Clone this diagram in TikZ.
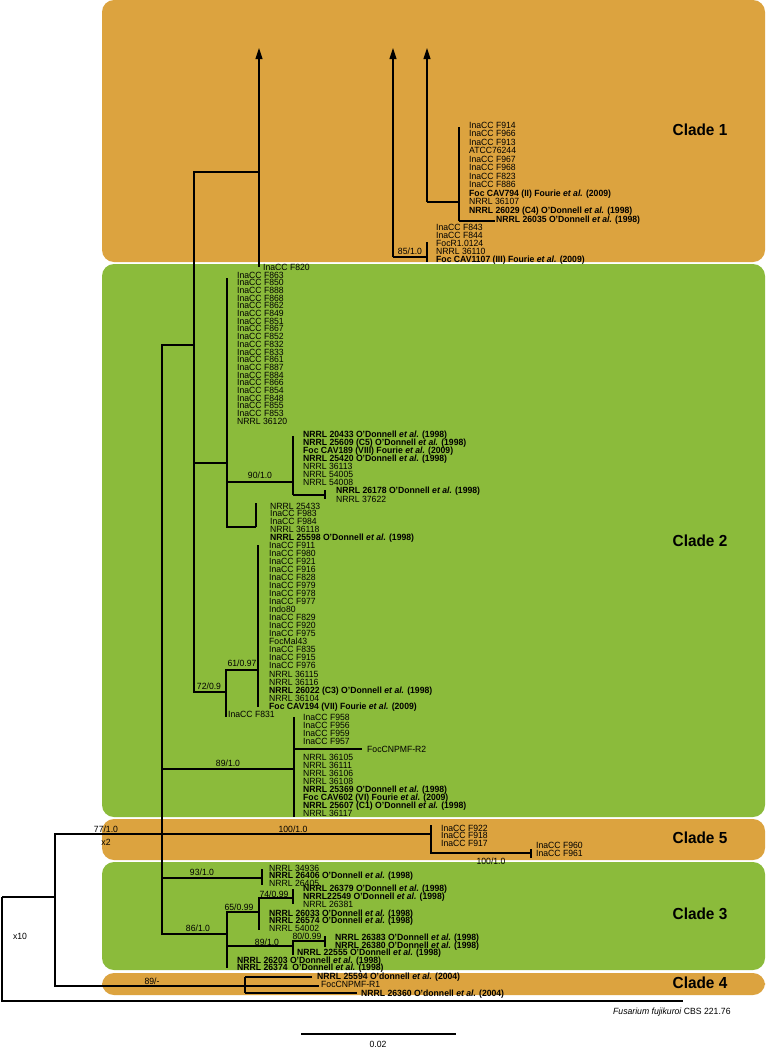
\documentclass[tikz,border=0pt]{standalone}
\usepackage{fontspec}
\setmainfont{Liberation Sans}[FakeStretch=0.96]
\usetikzlibrary{arrows.meta}
\definecolor{cladeor}{RGB}{220,163,63}
\definecolor{cladegr}{RGB}{139,187,59}
\newcommand\etal{\textit{et al.}}
\begin{document}
\begin{tikzpicture}[x=1pt,y=-1pt,
  band/.style={rounded corners=12pt},
  br/.style={draw=black,line width=1.1pt},
  arr/.style={br,-{Triangle[length=11pt,width=7pt]}},
  lf/.style={anchor=base west,inner sep=0pt,yshift=-0.3pt,font=\fontsize{9}{9}\selectfont},
  bs/.style={inner sep=0pt,font=\fontsize{9}{9}\selectfont},
  cl/.style={inner sep=0pt,font=\fontsize{16}{16}\selectfont\bfseries}]
\useasboundingbox (0,0) rectangle (766,1052);
\fill[white] (0,0) rectangle (766,1052);
% clade bands
\fill[cladeor,band] (102,0) rectangle (765,262);
\fill[cladegr,band] (102,264) rectangle (765,817);
\fill[cladeor,band] (102,819) rectangle (765,860);
\fill[cladegr,band] (102,862) rectangle (765,970);
\fill[cladeor,band] (102,973) rectangle (765,995);
\node[cl] (c1) at (700,130) {Clade 1};
\node[cl] (c2) at (700,541) {Clade 2};
\node[cl] (c5) at (700,838) {Clade 5};
\node[cl] (c3) at (700,914) {Clade 3};
\node[cl] (c4) at (700,983) {Clade 4};

% ---------- coordinates of tree nodes ----------
\coordinate (R) at (2,897);
\coordinate (A) at (55,897);
\coordinate (Fus) at (683,1001);
\coordinate (B) at (162,834);
\coordinate (Q) at (245,986);
\coordinate (C) at (194,345);
\coordinate (H89) at (294,769);
\coordinate (K) at (431,834);
\coordinate (T93) at (262,878);
\coordinate (N) at (227,934);
\coordinate (D) at (259,172);
\coordinate (Dtop) at (259,48);
\coordinate (Dbot) at (259,267);
\coordinate (G) at (227,463);
\coordinate (Gt) at (227,278);
\coordinate (Gb) at (227,527);
\coordinate (J) at (226,692);
\coordinate (Jb) at (226,717);
\coordinate (H90) at (293,482);
\coordinate (H90t) at (293,436);
\coordinate (H90b) at (293,495);
\coordinate (U) at (325,495);
\coordinate (Ut) at (325,490);
\coordinate (Ub) at (325,499);
\coordinate (I) at (256,527);
\coordinate (It) at (256,503);
\coordinate (V) at (258,670);
\coordinate (Vt) at (258,545);
\coordinate (Vb) at (258,707);
\coordinate (H89t) at (294,717);
\coordinate (H89b) at (294,817);
\coordinate (R2) at (362,749);
\coordinate (Kt) at (431,825);
\coordinate (K2) at (531,853);
\coordinate (K2t) at (531,849);
\coordinate (K2b) at (531,858);
\coordinate (T93t) at (262,869);
\coordinate (T93b) at (262,885);
\coordinate (Nt) at (227,912);
\coordinate (Nb) at (227,968);
\coordinate (M) at (259,912);
\coordinate (Mt) at (259,898);
\coordinate (Mb) at (259,930);
\coordinate (W) at (293,898);
\coordinate (Wt) at (293,889);
\coordinate (Wb) at (293,904);
\coordinate (L) at (293,946);
\coordinate (Lt) at (293,941);
\coordinate (Lb) at (293,955);
\coordinate (X) at (325,941);
\coordinate (Xt) at (325,936);
\coordinate (Xb) at (325,947);
\coordinate (Qt) at (245,977);
\coordinate (Qb) at (245,993);
\coordinate (Q1) at (312,977);
\coordinate (Q2) at (319,986);
\coordinate (Q3) at (357,993);
% clade 1 cut branches
\coordinate (E) at (393,257);
\coordinate (Etop) at (393,48);
\coordinate (F) at (427,257);
\coordinate (Ft) at (427,242);
\coordinate (Fb) at (427,262);
\coordinate (P) at (427,202);
\coordinate (Ptop) at (427,48);
\coordinate (S) at (459,202);
\coordinate (St) at (459,127);
\coordinate (Sb) at (459,221);
\coordinate (S2) at (495,221);
% scale bar
\coordinate (sb1) at (301,1034);
\coordinate (sb2) at (456,1034);

% ---------- branches ----------
\draw[br] (R) -- (A);
\draw[br] (R) |- (Fus);
\draw[br] (A) |- (B);
\draw[br] (A) |- (Q);
\draw[br] (B) |- (C);
\draw[br] (B) |- (H89);
\draw[br] (B) -- (K);
\draw[br] (B) |- (T93);
\draw[br] (B) |- (N);
\draw[br] (C) |- (D);
\draw[br] (C) |- (G);
\draw[br] (C) |- (J);
\draw[arr] (D) -- (Dtop);
\draw[br] (D) -- (Dbot);
\draw[br] (Gt) -- (Gb);
\draw[br] (G) |- (H90);
\draw[br] (G) |- (I);
\draw[br] (I) -- (It);
\draw[br] (H90t) -- (H90b);
\draw[br] (H90b) -- (U);
\draw[br] (Ut) -- (Ub);
\draw[br] (J) |- (V);
\draw[br] (J) -- (Jb);
\draw[br] (Vt) -- (Vb);
\draw[br] (H89t) -- (H89b);
\draw[br] (H89) |- (R2);
\draw[br] (Kt) |- (K2);
\draw[br] (K2t) -- (K2b);
\draw[br] (T93t) -- (T93b);
\draw[br] (Nt) -- (Nb);
\draw[br] (N) |- (M);
\draw[br] (N) |- (L);
\draw[br] (Mt) -- (Mb);
\draw[br] (M) |- (W);
\draw[br] (Wt) -- (Wb);
\draw[br] (Lt) -- (Lb);
\draw[br] (L) |- (X);
\draw[br] (Xt) -- (Xb);
\draw[br] (Qt) -- (Qb);
\draw[br] (Qt) -- (Q1);
\draw[br] (Q) -- (Q2);
\draw[br] (Qb) -- (Q3);
\draw[arr] (E) -- (Etop);
\draw[br] (E) -- (F);
\draw[br] (Ft) -- (Fb);
\draw[arr] (P) -- (Ptop);
\draw[br] (P) -- (S);
\draw[br] (St) -- (Sb);
\draw[br] (Sb) -- (S2);
\draw[br] (sb1) -- (sb2);

% ---------- support values ----------
\node[bs] (b85) at (410,251) {85/1.0};
\node[bs] (b90) at (260,475) {90/1.0};
\node[bs] (b61) at (242,663) {61/0.97};
\node[bs] (b72) at (209,686) {72/0.9};
\node[bs] (b891) at (228,763) {89/1.0};
\node[bs] (b77) at (106,829) {77/1.0};
\node[bs] (bx2) at (106,842) {x2};
\node[bs] (b100a) at (293,829) {100/1.0};
\node[bs] (b100b) at (491,861) {100/1.0};
\node[bs] (b93) at (202,872) {93/1.0};
\node[bs] (b74) at (274,894) {74/0.99};
\node[bs] (b65) at (239,907) {65/0.99};
\node[bs] (b86) at (198,928) {86/1.0};
\node[bs] (b892) at (267,942) {89/1.0};
\node[bs] (b80) at (307,936) {80/0.99};
\node[bs] (b89m) at (152,981) {89/-};
\node[bs] (bx10) at (20,936) {x10};
\node[bs] (sbl) at (378,1044) {0.02};

% ---------- leaves: clade 1 ----------
\foreach \t [count=\i from 0] in {{InaCC F914},{InaCC F966},{InaCC F913},{ATCC76244},{InaCC F967},{InaCC F968},{InaCC F823},{InaCC F886},{\textbf{Foc CAV794 (II) Fourie \etal{} (2009)}},{NRRL 36107},{\textbf{NRRL 26029 (C4) O'Donnell \etal{} (1998)}}}
  \node[lf] (s\i) at (469,{125+8.5*\i+2.9}) {\t};
\node[lf] (s11) at (496,221.9) {\textbf{NRRL 26035 O'Donnell \etal{} (1998)}};
\foreach \t [count=\i from 0] in {{InaCC F843},{InaCC F844},{FocR1.0124},{NRRL 36110},{\textbf{Foc CAV1107 (III) Fourie \etal{} (2009)}}}
  \node[lf] (f\i) at (436,{227+8*\i+2.9}) {\t};
\node[lf] (f820) at (263,269.9) {InaCC F820};

% ---------- leaves: clade 2 ----------
\foreach \t [count=\i from 0] in {{InaCC F863},{InaCC F850},{InaCC F888},{InaCC F868},{InaCC F862},{InaCC F849},{InaCC F851},{InaCC F867},{InaCC F852},{InaCC F832},{InaCC F833},{InaCC F861},{InaCC F887},{InaCC F884},{InaCC F866},{InaCC F854},{InaCC F848},{InaCC F855},{InaCC F853},{NRRL 36120}}
  \node[lf] (g\i) at (237,{275+7.68*\i+2.9}) {\t};
\foreach \t [count=\i from 0] in {{\textbf{NRRL 20433 O'Donnell \etal{} (1998)}},{\textbf{NRRL 25609 (C5) O'Donnell \etal{} (1998)}},{\textbf{Foc CAV189 (VIII) Fourie \etal{} (2009)}},{\textbf{NRRL 25420 O'Donnell \etal{} (1998)}},{NRRL 36113},{NRRL 54005},{NRRL 54008}}
  \node[lf] (h\i) at (303,{434.3+8.07*\i+2.9}) {\t};
\node[lf] (u0) at (336,492.9) {\textbf{NRRL 26178 O'Donnell \etal{} (1998)}};
\node[lf] (u1) at (336,501.9) {NRRL 37622};
\foreach \t [count=\i from 0] in {{NRRL 25433},{InaCC F983},{InaCC F984},{NRRL 36118},{\textbf{NRRL 25598 O'Donnell \etal{} (1998)}}}
  \node[lf] (i\i) at (270,{506+7.75*\i+2.9}) {\t};
\foreach \t [count=\i from 0] in {{InaCC F911},{InaCC F980},{InaCC F921},{InaCC F916},{InaCC F828},{InaCC F979},{InaCC F978},{InaCC F977},{Indo80},{InaCC F829},{InaCC F920},{InaCC F975},{FocMal43},{InaCC F835},{InaCC F915},{InaCC F976},{NRRL 36115},{NRRL 36116},{\textbf{NRRL 26022 (C3) O'Donnell \etal{} (1998)}},{NRRL 36104},{\textbf{Foc CAV194 (VII) Fourie \etal{} (2009)}}}
  \node[lf] (v\i) at (269,{545+8.05*\i+2.9}) {\t};
\node[lf] (j831) at (228,716.9) {InaCC F831};
\foreach \t [count=\i from 0] in {{InaCC F958},{InaCC F956},{InaCC F959},{InaCC F957}}
  \node[lf] (k\i) at (303,{717+8*\i+2.9}) {\t};
\node[lf] (r2) at (367,751.9) {FocCNPMF-R2};
\foreach \t [count=\i from 0] in {{NRRL 36105},{NRRL 36111},{NRRL 36106},{NRRL 36108},{\textbf{NRRL 25369 O'Donnell \etal{} (1998)}},{\textbf{Foc CAV602 (VI) Fourie \etal{} (2009)}},{\textbf{NRRL 25607 (C1) O'Donnell \etal{} (1998)}},{NRRL 36117}}
  \node[lf] (n\i) at (303,{757+8*\i+2.9}) {\t};

% ---------- leaves: clade 5 ----------
\foreach \t [count=\i from 0] in {{InaCC F922},{InaCC F918},{InaCC F917}}
  \node[lf] (e\i) at (441,{828+7.5*\i+2.9}) {\t};
\node[lf] (e3) at (536,847.9) {InaCC F960};
\node[lf] (e4) at (536,855.9) {InaCC F961};

% ---------- leaves: clade 3 ----------
\node[lf] (t0) at (269,870.9) {NRRL 34936};
\node[lf] (t1) at (269,878.4) {\textbf{NRRL 26406 O'Donnell \etal{} (1998)}};
\node[lf] (t2) at (269,885.9) {NRRL 26405};
\node[lf] (w0) at (303,890.9) {\textbf{NRRL 26379 O'Donnell \etal{} (1998)}};
\node[lf] (w1) at (303,899.4) {\textbf{NRRL22549 O'Donnell \etal{} (1998)}};
\node[lf] (w2) at (303,906.9) {NRRL 26381};
\node[lf] (m0) at (269,915.9) {\textbf{NRRL 26033 O'Donnell \etal{} (1998)}};
\node[lf] (m1) at (269,923.4) {\textbf{NRRL 26574 O'Donnell \etal{} (1998)}};
\node[lf] (m2) at (269,930.9) {NRRL 54002};
\node[lf] (x0) at (335,939.9) {\textbf{NRRL 26383 O'Donnell \etal{} (1998)}};
\node[lf] (x1) at (335,947.9) {\textbf{NRRL 26380 O'Donnell \etal{} (1998)}};
\node[lf] (l0) at (297,954.9) {\textbf{NRRL 22555 O'Donnell \etal{} (1998)}};
\node[lf] (n26203) at (237,962.9) {\textbf{NRRL 26203 O'Donnell \etal{} (1998)}};
\node[lf] (n26374) at (237,969.9) {\textbf{NRRL 26374\ \ O'Donnell \etal{} (1998)}};

% ---------- leaves: clade 4 ----------
\node[lf] (q0) at (317,978.9) {\textbf{NRRL 25594 O'donnell \etal{} (2004)}};
\node[lf] (q1) at (321,986.9) {FocCNPMF-R1};
\node[lf] (q2) at (361,995.9) {\textbf{NRRL 26360 O'donnell \etal{} (2004)}};

% ---------- outgroup ----------
\node[lf] (fus) at (613,1013.9) {\textit{Fusarium fujikuroi} CBS 221.76};
\end{tikzpicture}
\end{document}
